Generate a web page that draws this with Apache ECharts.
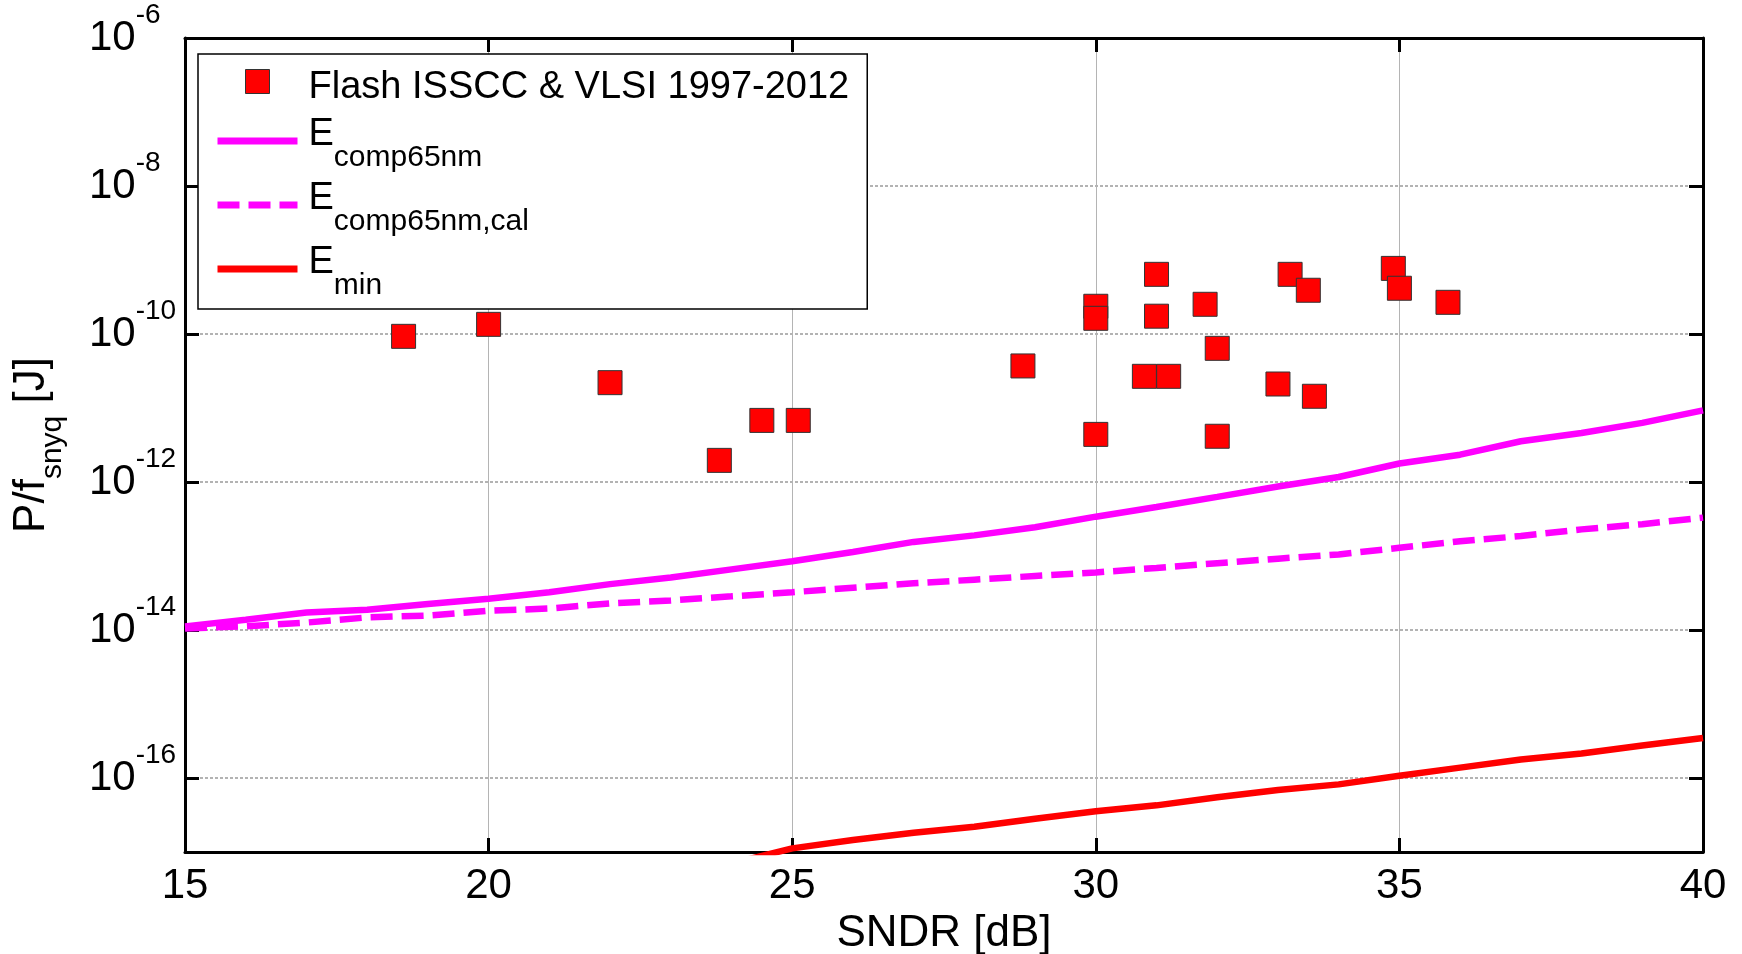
<!DOCTYPE html>
<html>
<head>
<meta charset="utf-8">
<title>Flash ADC P/fsnyq vs SNDR</title>
<script src="https://cdn.jsdelivr.net/npm/echarts@6/dist/echarts.min.js"></script>
<style>
  html, body { margin: 0; padding: 0; background: #fff; }
  #chart { width: 1742px; height: 954px; }
</style>
</head>
<body>
<div id="chart"></div>
<script>
// Flash ADCs, ISSCC & VLSI 1997-2012: energy per Nyquist sample vs SNDR
const flashSndr = [18.6, 20.0, 22.0, 23.8, 24.5, 25.1, 28.8, 30.0, 30.0, 30.0, 30.8, 31.0,
  31.0, 31.2, 31.8, 32.0, 32.0, 33.0, 33.2, 33.5, 33.6, 34.9, 35.0, 35.8]
const flashEnergy = [9.3e-11, 1.35e-10, 2.2e-11, 1.96e-12, 6.8e-12, 6.8e-12, 3.7e-11, 2.37e-10,
  1.63e-10, 4.4e-12, 2.68e-11, 6.4e-10, 1.74e-10, 2.68e-11, 2.52e-10, 6.4e-11, 4.15e-12,
  2.11e-11, 6.4e-10, 3.9e-10, 1.44e-11, 7.7e-10, 4.15e-10, 2.68e-10]

// model curves, one point per dB
const lineSndr = [15, 16, 17, 18, 19, 20, 21, 22, 23, 24, 25, 26, 27,
  28, 29, 30, 31, 32, 33, 34, 35, 36, 37, 38, 39, 40]
const eComp65nm = [1.12e-14, 1.38e-14, 1.72e-14, 1.88e-14, 2.24e-14, 2.65e-14, 3.24e-14,
  4.17e-14, 5.13e-14, 6.6e-14, 8.5e-14, 1.13e-13, 1.55e-13, 1.9e-13, 2.45e-13, 3.4e-13,
  4.6e-13, 6.3e-13, 8.7e-13, 1.17e-12, 1.78e-12, 2.34e-12, 3.55e-12, 4.6e-12, 6.3e-12, 9.3e-12]
const eComp65nmCal = [1.05e-14, 1.12e-14, 1.26e-14, 1.48e-14, 1.57e-14, 1.82e-14, 1.95e-14,
  2.29e-14, 2.51e-14, 2.85e-14, 3.24e-14, 3.72e-14, 4.27e-14, 4.79e-14, 5.37e-14, 6.0e-14,
  6.9e-14, 8.0e-14, 9.2e-14, 1.05e-13, 1.29e-13, 1.58e-13, 1.86e-13, 2.29e-13, 2.69e-13, 3.3e-13]
const eMinSndr = [24, 25, 26, 27, 28, 29, 30, 31, 32, 33, 34, 35, 36, 37, 38, 39, 40]
const eMin = [7.0e-18, 1.12e-17, 1.45e-17, 1.82e-17, 2.19e-17, 2.82e-17, 3.55e-17, 4.27e-17,
  5.5e-17, 6.9e-17, 8.2e-17, 1.07e-16, 1.38e-16, 1.78e-16, 2.14e-16, 2.75e-16, 3.47e-16]

// axes
const xMin = 15, xMax = 40, xStep = 5
const yMin = 1e-17, yMax = 1e-6
const yLabelExps = [-16, -14, -12, -10, -8, -6]

const FONT = '"Liberation Sans", Arial, sans-serif'
const MAGENTA = '#ff00ff'
const RED = '#ff0000'

const zip = (xs, ys) => xs.map((x, i) => [x, ys[i]])

const legendText = {
  'Flash ISSCC & VLSI 1997-2012': '{f|Flash ISSCC & VLSI 1997-2012}',
  'Ecomp65nm': '{E|E}{sub|comp65nm}',
  'Ecomp65nm,cal': '{E|E}{sub|comp65nm,cal}',
  'Emin': '{E|E}{sub|min}',
}

const frame = { show: true, lineStyle: { color: '#000', width: 3 } }
const inTick = { show: true, inside: true, length: 14, lineStyle: { color: '#000', width: 3 } }
// line legend items: hide the circle ECharts puts on the line icon
const noDot = { color: 'rgba(0,0,0,0)', borderColor: 'rgba(0,0,0,0)', borderWidth: 0 }
// 24px square inside a 54px icon box (extra moveTo points keep the box size)
const squareIcon = 'path://M0,0M54,54M15,15L39,15L39,39L15,39Z'

const chart = echarts.init(document.getElementById('chart'))
chart.setOption({
  animation: false,
  backgroundColor: '#fff',
  textStyle: { fontFamily: FONT, color: '#000' },
  grid: { left: 185, right: 39, top: 38, bottom: 102, containLabel: false, outerBoundsMode: 'none' },
  legend: {
    orient: 'vertical',
    left: 198, top: 54,
    padding: [0, 18, 8, 16],
    itemWidth: 80, itemHeight: 54, itemGap: 5,
    backgroundColor: '#fff', borderColor: '#000', borderWidth: 1.5,
    selectedMode: false,
    symbolKeepAspect: true,
    lineStyle: { width: 7 },
    data: [
      { name: 'Flash ISSCC & VLSI 1997-2012', icon: squareIcon,
        itemStyle: { color: RED, borderColor: '#333', borderWidth: 1, opacity: 1 } },
      { name: 'Ecomp65nm', itemStyle: noDot },
      { name: 'Ecomp65nm,cal', itemStyle: noDot },
      { name: 'Emin', itemStyle: noDot },
    ],
    formatter: (name) => legendText[name],
    textStyle: {
      fontFamily: FONT, color: '#000',
      rich: {
        f: { fontSize: 38, padding: [12, 0, 0, 6], fontFamily: FONT, color: '#000' },
        E: { fontSize: 38, lineHeight: 54, verticalAlign: 'top', padding: [2, 0, 0, 6], fontFamily: FONT, color: '#000' },
        sub: { fontSize: 30, height: 20, verticalAlign: 'bottom', fontFamily: FONT, color: '#000' },
      },
    },
  },
  xAxis: [
    {
      type: 'value', min: xMin, max: xMax, interval: xStep,
      name: 'SNDR [dB]', nameLocation: 'middle', nameGap: 60,
      nameTextStyle: { fontSize: 44, fontFamily: FONT, color: '#000' },
      axisLine: frame, axisTick: inTick,
      axisLabel: { fontSize: 42, margin: 13, color: '#000', fontFamily: FONT },
      splitLine: { show: true, lineStyle: { color: '#b4b4b4', width: 1 } },
    },
    {
      type: 'value', min: xMin, max: xMax, interval: xStep, position: 'top',
      axisLine: frame, axisTick: inTick,
      axisLabel: { show: false }, splitLine: { show: false },
    },
  ],
  yAxis: [
    {
      type: 'log', logBase: 100, min: yMin, max: yMax,
      name: '{m|P/f}{s|snyq}{m| [J]}', nameLocation: 'middle', nameRotate: 90, nameGap: 117,
      nameTextStyle: {
        rich: {
          m: { fontSize: 44, lineHeight: 73, fontFamily: FONT, color: '#000' },
          s: { fontSize: 30, lineHeight: 30, verticalAlign: 'bottom', fontFamily: FONT, color: '#000' },
        },
      },
      axisLine: frame, axisTick: inTick,
      axisLabel: {
        align: 'left', margin: 96,
        formatter: (v) => {
          const e = Math.round(Math.log10(v))
          return yLabelExps.includes(e) ? `{b|10}{e|${e}}` : ''
        },
        rich: {
          b: { fontSize: 42, lineHeight: 74, fontFamily: FONT, color: '#000' },
          e: { fontSize: 28, lineHeight: 28, verticalAlign: 'top', fontFamily: FONT, color: '#000' },
        },
      },
      splitLine: { show: true, lineStyle: { color: '#9a9a9a', type: [3, 2], width: 1.5 } },
    },
    {
      type: 'log', logBase: 100, min: yMin, max: yMax, position: 'right',
      axisLine: frame, axisTick: inTick,
      axisLabel: { show: false }, splitLine: { show: false },
    },
  ],
  series: [
    {
      name: 'Flash ISSCC & VLSI 1997-2012', type: 'scatter',
      symbol: 'rect', symbolSize: 24,
      itemStyle: { color: RED, borderColor: '#333', borderWidth: 1, opacity: 1 },
      data: zip(flashSndr, flashEnergy), z: 3,
    },
    {
      name: 'Ecomp65nm', type: 'line', symbol: 'none', showSymbol: false,
      lineStyle: { color: MAGENTA, width: 6.5 }, itemStyle: { color: MAGENTA },
      data: zip(lineSndr, eComp65nm),
    },
    {
      name: 'Ecomp65nm,cal', type: 'line', symbol: 'none', showSymbol: false,
      lineStyle: { color: MAGENTA, width: 6.5, type: [22, 9] }, itemStyle: { color: MAGENTA },
      data: zip(lineSndr, eComp65nmCal),
    },
    {
      name: 'Emin', type: 'line', symbol: 'none', showSymbol: false,
      lineStyle: { color: RED, width: 6.5 }, itemStyle: { color: RED },
      data: zip(eMinSndr, eMin),
    },
  ],
})
</script>
</body>
</html>
